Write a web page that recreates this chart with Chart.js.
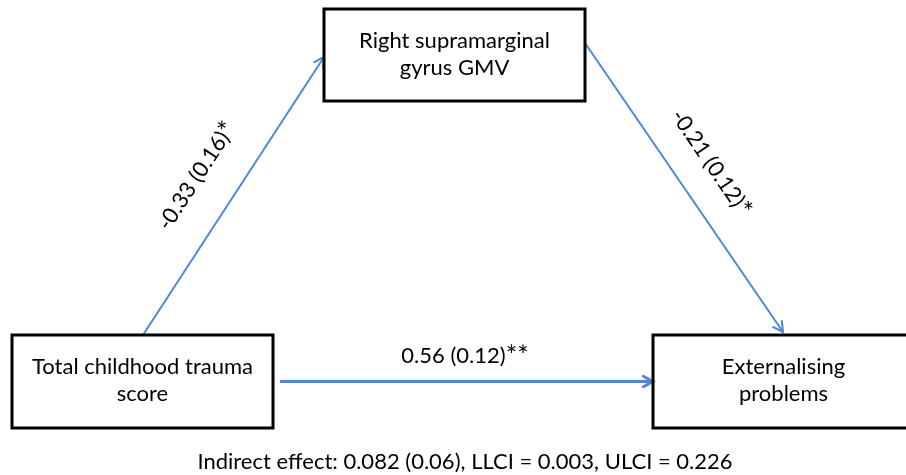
<!DOCTYPE html>
<html>
<head>
<meta charset="utf-8">
<script src="https://cdn.jsdelivr.net/npm/chart.js@4"></script>
<style>
html,body{margin:0;padding:0;background:#fff;}
#wrap{width:906px;height:475px;}
</style>
</head>
<body>
<div id="wrap"><canvas id="c" width="906" height="475"></canvas></div>
<script>
// ---- data ----
const nodeNames = [
  ["Total childhood trauma", "score"],
  ["Right supramarginal", "gyrus GMV"],
  ["Externalising", "problems"]
];
const pathFrom = [0, 1, 0];
const pathTo = [1, 2, 2];
const pathCoef = ["-0.33", "-0.21", "0.56"];
const pathSE = ["0.16", "0.12", "0.12"];
const pathSig = ["*", "*", "**"];
const indirectEffect = "0.082";
const indirectSE = "0.06";
const llci = "0.003";
const ulci = "0.226";

// ---- layout (diagram units = pixels of a 906x475 canvas) ----
const boxes = [
  {x0: 12, y0: 335, x1: 273, y1: 428},
  {x0: 324, y0: 9, x1: 585, y1: 101},
  {x0: 653, y0: 335, x1: 914, y1: 428}
];
const arrows = [
  {a: [143, 335], b: [324, 57], w: 2},
  {a: [585, 43], b: [783, 332], w: 2},
  {a: [280, 381.5], b: [653, 381.5], w: 2.8}
];
const pathLabelPos = [
  {x: 197, y: 176, rot: true},
  {x: 711, y: 163, rot: true},
  {x: 465, y: 356, rot: false}
];
const FONT = '22px Lato';
const STAR_FONT = '27px Lato';
const BLUE = '#4f86d6';

const datasets = arrows.map((ar, i) => ({
  label: pathCoef[i],
  data: [{x: ar.a[0], y: ar.a[1]}, {x: ar.b[0], y: ar.b[1]}],
  showLine: true,
  borderColor: BLUE,
  borderWidth: ar.w,
  pointRadius: 0,
  fill: false
}));

const diagramPlugin = {
  id: 'diagram',
  afterDatasetsDraw(chart) {
    const ctx = chart.ctx;
    const xs = chart.scales.x, ys = chart.scales.y;
    const px = v => xs.getPixelForValue(v), py = v => ys.getPixelForValue(v);
    ctx.save();
    // arrowheads
    arrows.forEach(ar => {
      const bx = px(ar.b[0]), by = py(ar.b[1]);
      const ax = px(ar.a[0]), ay = py(ar.a[1]);
      const ang = Math.atan2(by - ay, bx - ax);
      const L = 11, spread = 0.5;
      ctx.strokeStyle = BLUE;
      ctx.lineWidth = ar.w;
      ctx.lineCap = 'round';
      ctx.beginPath();
      ctx.moveTo(bx - L * Math.cos(ang - spread), by - L * Math.sin(ang - spread));
      ctx.lineTo(bx, by);
      ctx.lineTo(bx - L * Math.cos(ang + spread), by - L * Math.sin(ang + spread));
      ctx.stroke();
    });
    // boxes
    ctx.lineWidth = 3;
    ctx.strokeStyle = '#000';
    ctx.fillStyle = '#000';
    ctx.font = FONT;
    ctx.textAlign = 'center';
    ctx.textBaseline = 'alphabetic';
    boxes.forEach((b, i) => {
      const x0 = px(b.x0), y0 = py(b.y0), x1 = px(b.x1), y1 = py(b.y1);
      ctx.strokeRect(x0, y0, x1 - x0, y1 - y0);
      const cx = (x0 + x1) / 2, cy = (y0 + y1) / 2;
      const lines = nodeNames[i];
      const lh = 27;
      lines.forEach((t, k) => {
        const yb = cy + (k - (lines.length - 1) / 2) * lh + 6;
        ctx.fillText(t, cx, yb);
      });
    });
    // path labels
    pathLabelPos.forEach((p, i) => {
      const main = pathCoef[i] + ' (' + pathSE[i] + ')';
      const sig = pathSig[i];
      ctx.save();
      ctx.translate(px(p.x), py(p.y));
      if (p.rot) {
        const ar = arrows[i];
        let ang = Math.atan2(ar.b[1] - ar.a[1], ar.b[0] - ar.a[0]);
        if (ang > Math.PI / 2) ang -= Math.PI;
        if (ang < -Math.PI / 2) ang += Math.PI;
        ctx.rotate(ang);
      }
      ctx.textAlign = 'left';
      ctx.textBaseline = 'alphabetic';
      ctx.font = FONT;
      const w1 = ctx.measureText(main).width;
      ctx.font = STAR_FONT;
      const w2 = ctx.measureText(sig).width;
      const start = -(w1 + w2) / 2;
      ctx.font = FONT;
      ctx.fillText(main, start, 7);
      ctx.font = STAR_FONT;
      ctx.fillText(sig, start + w1, 9);
      ctx.restore();
    });
    // indirect effect
    ctx.font = FONT;
    ctx.textAlign = 'center';
    ctx.textBaseline = 'middle';
    ctx.fillText('Indirect effect: ' + indirectEffect + ' (' + indirectSE + '), LLCI = ' + llci + ', ULCI = ' + ulci, px(465), py(462));
    ctx.restore();
  }
};

new Chart(document.getElementById('c'), {
  type: 'scatter',
  data: {datasets},
  options: {
    responsive: false,
    devicePixelRatio: 1,
    animation: false,
    layout: {padding: 0},
    plugins: {legend: {display: false}, tooltip: {enabled: false}},
    scales: {
      x: {type: 'linear', min: 0, max: 906, display: false},
      y: {type: 'linear', min: 0, max: 475, reverse: true, display: false}
    }
  },
  plugins: [diagramPlugin]
});
</script>
</body>
</html>
